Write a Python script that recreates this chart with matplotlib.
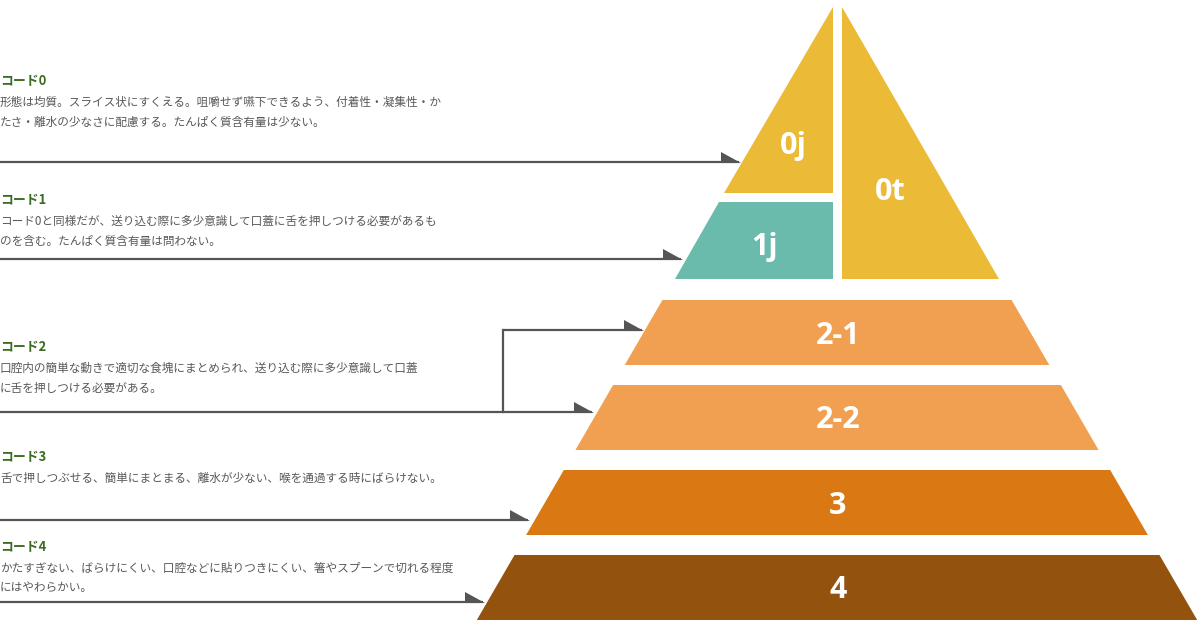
import matplotlib
matplotlib.use("Agg")
import matplotlib.pyplot as plt
from matplotlib.patches import Polygon

plt.rcParams['font.family'] = ['Noto Sans CJK JP', 'DejaVu Sans']

# ---- data ----
layer_labels = ["0j", "0t", "1j", "2-1", "2-2", "3", "4"]
layer_colors = ["#EBBB37", "#EBBB37", "#6ABBAB", "#F0A050", "#F0A050", "#DA7914", "#94520F"]

code_titles = ["コード0", "コード1", "コード2", "コード3", "コード4"]
code_texts = [
    ["形態は均質。スライス状にすくえる。咀嚼せず嚥下できるよう、付着性・凝集性・か",
     "たさ・離水の少なさに配慮する。たんぱく質含有量は少ない。"],
    ["コード0と同様だが、送り込む際に多少意識して口蓋に舌を押しつける必要があるも",
     "のを含む。たんぱく質含有量は問わない。"],
    ["口腔内の簡単な動きで適切な食塊にまとめられ、送り込む際に多少意識して口蓋",
     "に舌を押しつける必要がある。"],
    ["舌で押しつぶせる、簡単にまとまる、離水が少ない、喉を通過する時にばらけない。"],
    ["かたすぎない、ばらけにくい、口腔などに貼りつきにくい、箸やスプーンで切れる程度",
     "にはやわらかい。"],
]

# ---- layout (pixel coordinates) ----
W, H = 1200, 620
fig = plt.figure(figsize=(W / 100, H / 100), dpi=100)
ax = fig.add_axes([0, 0, 1, 1])
ax.set_xlim(0, W)
ax.set_ylim(H, 0)
ax.axis("off")

CX, APEX_Y, SLOPE = 837.0, -1.0, 0.58
GAP_X = 4.5


def left(y):
    return CX - SLOPE * (y - APEX_Y)


def right(y):
    return CX + SLOPE * (y - APEX_Y)


# top triangle section
y0j_top = APEX_Y + GAP_X / SLOPE
poly_0j = [(CX - GAP_X, y0j_top), (CX - GAP_X, 193), (left(193), 193)]
poly_0t = [(CX + GAP_X, y0j_top), (CX + GAP_X, 279), (right(279), 279)]
poly_1j = [(left(202), 202), (CX - GAP_X, 202), (CX - GAP_X, 279), (left(279), 279)]
bands = [(300, 365), (385, 450), (470, 535), (555, 620)]
polys = [poly_0j, poly_0t, poly_1j]
for (t, b) in bands:
    polys.append([(left(t), t), (right(t), t), (right(b), b), (left(b), b)])

label_pos = [(793, 146), (890, 192), (765, 247)] + [(CX + 1, (t + b) / 2 + 3) for t, b in bands]

for poly, col, lab, (lx, ly) in zip(polys, layer_colors, layer_labels, label_pos):
    ax.add_patch(Polygon(poly, closed=True, facecolor=col, edgecolor="none"))
    ax.text(lx, ly, lab, color="white", fontsize=22, fontweight="bold",
            family=["Open Sans", "DejaVu Sans"], ha="center", va="center")

# ---- texts ----
title_y = [81, 200, 347, 457, 547]
LINE_GAP = 19.5
FIRST_GAP = 21.5
for ty, title, lines in zip(title_y, code_titles, code_texts):
    ax.text(0, ty, title, color="#3A6B20", fontsize=9.3, fontweight="bold",
            ha="left", va="center")
    for i, ln in enumerate(lines):
        ax.text(0, ty + FIRST_GAP + i * LINE_GAP, ln, color="#595959", fontsize=8.4,
                ha="left", va="center")

# ---- arrows ----
LC = "#555555"
LW = 1.6


def arrow(x0, x1, y):
    ax.plot([x0, x1 - 2], [y, y], color=LC, lw=LW, solid_capstyle="butt")
    ax.add_patch(Polygon([(x1 - 20, y - 10.5), (x1 - 20, y + 1), (x1, y + 1)],
                         closed=True, facecolor=LC, edgecolor="none"))


arrow(0, 741, 162)
arrow(0, 683, 259)
arrow(0, 594, 412)
ax.plot([503, 503], [412, 330], color=LC, lw=LW)
arrow(503, 644, 330)
arrow(0, 530, 520)
arrow(0, 485, 602)

fig.savefig("out.png", dpi=100)
